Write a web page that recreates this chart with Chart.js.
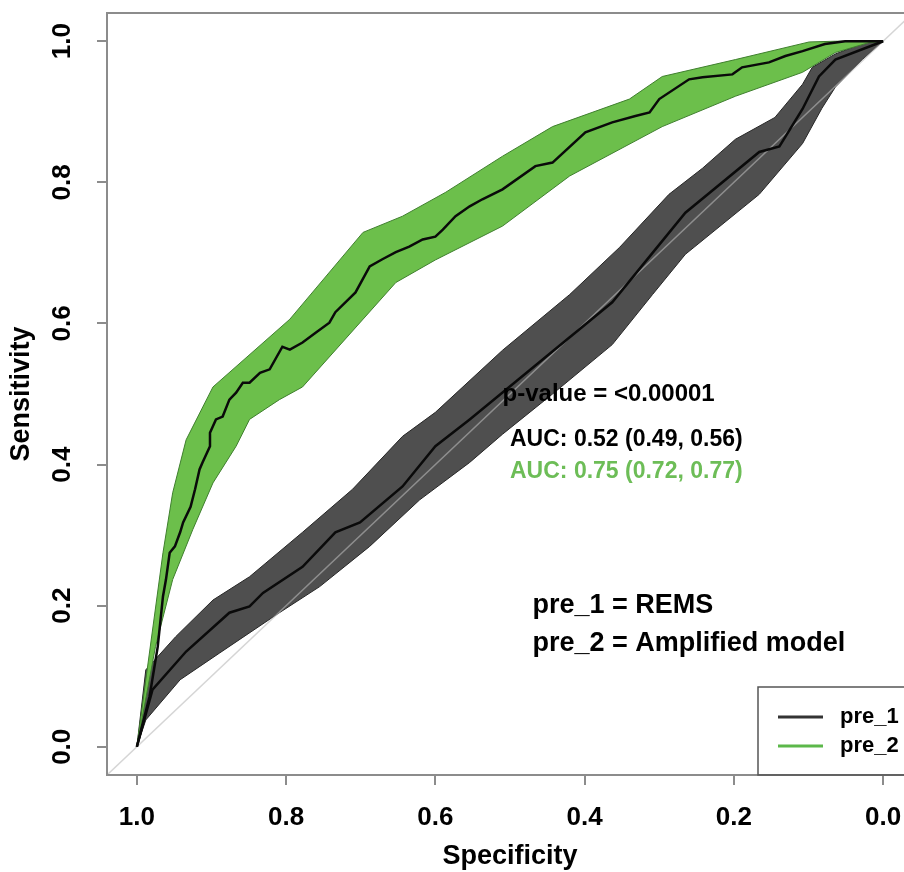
<!DOCTYPE html>
<html>
<head>
<meta charset="utf-8">
<script src="https://cdn.jsdelivr.net/npm/chart.js@4.4.1/dist/chart.umd.min.js"></script>
<style>
  html, body { margin: 0; padding: 0; background: #fff; overflow: hidden; }
</style>
</head>
<body>
<canvas id="roc-chart" width="920" height="872"></canvas>
<script>
// ROC data (x = specificity, y = sensitivity)
const pre1Spec = [1.0, 0.979, 0.934, 0.876, 0.849, 0.831, 0.778, 0.734, 0.701, 0.644, 0.60, 0.554, 0.51, 0.363, 0.309, 0.265, 0.166, 0.139, 0.108, 0.086, 0.064, 0.0];
const pre1Sens = [0.0, 0.081, 0.135, 0.19, 0.199, 0.218, 0.255, 0.304, 0.318, 0.369, 0.426, 0.464, 0.502, 0.63, 0.70, 0.757, 0.843, 0.851, 0.904, 0.95, 0.974, 1.0];

const pre1UpperSpec = [1.0, 0.988, 0.948, 0.898, 0.849, 0.778, 0.711, 0.644, 0.60, 0.51, 0.42, 0.353, 0.287, 0.242, 0.198, 0.145, 0.108, 0.095, 0.064, 0.019, 0.0];
const pre1UpperSens = [0.0, 0.109, 0.156, 0.208, 0.241, 0.304, 0.365, 0.44, 0.474, 0.562, 0.641, 0.708, 0.783, 0.82, 0.861, 0.892, 0.939, 0.963, 0.982, 1.0, 1.0];
const pre1LowerSpec = [1.0, 0.988, 0.942, 0.889, 0.809, 0.755, 0.688, 0.621, 0.554, 0.51, 0.443, 0.363, 0.309, 0.265, 0.166, 0.108, 0.082, 0.064, 0.028, 0.0];
const pre1LowerSens = [0.0, 0.038, 0.095, 0.133, 0.19, 0.227, 0.284, 0.35, 0.403, 0.443, 0.50, 0.570, 0.641, 0.698, 0.783, 0.855, 0.905, 0.935, 0.974, 1.0];

const pre2Spec = [1.0, 0.983, 0.972, 0.965, 0.961, 0.956, 0.949, 0.942, 0.938, 0.928, 0.922, 0.916, 0.912, 0.902, 0.902, 0.894, 0.885, 0.876, 0.867, 0.858, 0.849, 0.835, 0.822, 0.805, 0.795, 0.778, 0.760, 0.742, 0.734, 0.707, 0.688, 0.671, 0.653, 0.635, 0.617, 0.600, 0.590, 0.573, 0.554, 0.537, 0.51, 0.466, 0.443, 0.399, 0.363, 0.332, 0.313, 0.30, 0.26, 0.242, 0.202, 0.189, 0.153, 0.131, 0.108, 0.078, 0.051, 0.0];
const pre2Sens = [0.0, 0.071, 0.142, 0.213, 0.237, 0.275, 0.284, 0.304, 0.318, 0.340, 0.365, 0.393, 0.403, 0.426, 0.445, 0.464, 0.468, 0.492, 0.502, 0.516, 0.516, 0.530, 0.535, 0.567, 0.563, 0.573, 0.587, 0.601, 0.616, 0.644, 0.681, 0.691, 0.701, 0.709, 0.719, 0.723, 0.733, 0.752, 0.766, 0.776, 0.790, 0.823, 0.828, 0.871, 0.885, 0.894, 0.899, 0.918, 0.946, 0.949, 0.953, 0.963, 0.970, 0.979, 0.986, 0.996, 1.0, 1.0];

const pre2UpperSpec = [1.0, 0.988, 0.965, 0.952, 0.934, 0.898, 0.795, 0.697, 0.644, 0.586, 0.51, 0.443, 0.34, 0.296, 0.198, 0.099, 0.064, 0.0];
const pre2UpperSens = [0.0, 0.095, 0.275, 0.36, 0.435, 0.51, 0.606, 0.729, 0.752, 0.786, 0.837, 0.879, 0.918, 0.95, 0.974, 0.999, 1.0, 1.0];
const pre2LowerSpec = [1.0, 0.975, 0.952, 0.925, 0.898, 0.867, 0.849, 0.809, 0.778, 0.653, 0.60, 0.51, 0.42, 0.296, 0.198, 0.108, 0.064, 0.019, 0.0];
const pre2LowerSens = [0.0, 0.142, 0.237, 0.308, 0.374, 0.426, 0.464, 0.492, 0.51, 0.658, 0.69, 0.738, 0.809, 0.879, 0.922, 0.956, 0.984, 0.998, 1.0];

// chance line spans the whole (R-style, 4% padded) plot region
const diagSpec = [1.04, -0.04];
const diagSens = [-0.04, 1.04];

const xTicks = [1.0, 0.8, 0.6, 0.4, 0.2, 0.0];
const yTicks = [0.0, 0.2, 0.4, 0.6, 0.8, 1.0];

const seriesNames = ['pre_1', 'pre_2'];
const pValueText = 'p-value = <0.00001';
const aucTexts = ['AUC: 0.52 (0.49, 0.56)', 'AUC: 0.75 (0.72, 0.77)'];
const modelTexts = ['pre_1 = REMS', 'pre_2 = Amplified model'];

const FONT = '"Liberation Sans", Arial, Helvetica, sans-serif';
const GREEN = '#6cbf4b';

function toPoints(xs, ys) {
    return xs.map((v, i) => ({ x: v, y: ys[i] }));
}

// closed polygon: upper edge then lower edge walked back
function bandPoints(ux, uy, lx, ly) {
    return toPoints(ux, uy).concat(toPoints(lx, ly).reverse());
}

// box, rotated y labels, notes and the R-style legend
const rocDecorations = {
    id: 'rocDecorations',
    afterDraw(chart) {
        const { ctx, chartArea: a, scales: { x, y } } = chart;
        ctx.save();

        ctx.strokeStyle = '#8c8c8c';
        ctx.lineWidth = 2;
        ctx.strokeRect(a.left, a.top, a.right - a.left, a.bottom - a.top);

        ctx.fillStyle = '#000';
        ctx.font = 'bold 26px ' + FONT;
        ctx.textAlign = 'center';
        ctx.textBaseline = 'middle';
        yTicks.forEach(v => {
            ctx.save();
            ctx.translate(a.left - 44, y.getPixelForValue(v));
            ctx.rotate(-Math.PI / 2);
            ctx.fillText(v.toFixed(1), 0, 0);
            ctx.restore();
        });

        ctx.textAlign = 'left';
        ctx.font = 'bold 24px ' + FONT;
        ctx.fillText(pValueText, x.getPixelForValue(0.51), y.getPixelForValue(0.50));

        ctx.font = 'bold 23px ' + FONT;
        ctx.fillText(aucTexts[0], x.getPixelForValue(0.50), y.getPixelForValue(0.435));
        ctx.fillStyle = '#6dbd57';
        ctx.fillText(aucTexts[1], x.getPixelForValue(0.50), y.getPixelForValue(0.39));

        ctx.fillStyle = '#000';
        ctx.font = 'bold 27px ' + FONT;
        ctx.fillText(modelTexts[0], x.getPixelForValue(0.47), y.getPixelForValue(0.20));
        ctx.fillText(modelTexts[1], x.getPixelForValue(0.47), y.getPixelForValue(0.146));

        // legend box sits in the bottom-right corner of the plot
        const left = a.right - 155, top = a.bottom - 88;
        ctx.strokeStyle = '#555';
        ctx.lineWidth = 1.5;
        ctx.strokeRect(left, top, a.right - left, a.bottom - top);
        const legendColors = ['#333333', '#5cb84a'];
        ctx.font = 'bold 22px ' + FONT;
        ctx.lineWidth = 3;
        seriesNames.forEach((name, i) => {
            const ly = top + 30 + i * 29;
            ctx.strokeStyle = legendColors[i];
            ctx.beginPath();
            ctx.moveTo(left + 20, ly);
            ctx.lineTo(left + 65, ly);
            ctx.stroke();
            ctx.fillStyle = '#000';
            ctx.fillText(name, left + 82, ly);
        });

        ctx.restore();
    }
};

document.addEventListener('DOMContentLoaded', function () {
    const ctx = document.getElementById('roc-chart').getContext('2d');

    const lineStyle = { showLine: true, pointRadius: 0, borderWidth: 2.5, tension: 0, fill: false };

    new Chart(ctx, {
        type: 'scatter',
        data: {
            datasets: [
                // index 0 ends up on top
                Object.assign({ label: 'pre_2', data: toPoints(pre2Spec, pre2Sens), borderColor: '#0a0a0a' }, lineStyle),
                Object.assign({ label: 'pre_1', data: toPoints(pre1Spec, pre1Sens), borderColor: '#0a0a0a' }, lineStyle),
                {
                    label: 'chance',
                    data: toPoints(diagSpec, diagSens),
                    showLine: true, pointRadius: 0, borderWidth: 1.5,
                    borderColor: 'rgba(185,185,185,0.6)', fill: false
                },
                {
                    label: 'pre_2 CI',
                    data: bandPoints(pre2UpperSpec, pre2UpperSens, pre2LowerSpec, pre2LowerSens),
                    showLine: true, pointRadius: 0, borderWidth: 1,
                    borderColor: '#3f7f2e', backgroundColor: GREEN, fill: 'shape'
                },
                {
                    label: 'pre_1 CI',
                    data: bandPoints(pre1UpperSpec, pre1UpperSens, pre1LowerSpec, pre1LowerSens),
                    showLine: true, pointRadius: 0, borderWidth: 1,
                    borderColor: '#262626', backgroundColor: '#4f4f4f', fill: 'shape'
                }
            ]
        },
        options: {
            responsive: false,
            animation: false,
            layout: { padding: { top: 13, right: 7, left: 0, bottom: 0 } },
            plugins: {
                legend: { display: false },
                tooltip: { enabled: false }
            },
            scales: {
                x: {
                    type: 'linear',
                    reverse: true,
                    min: -0.04,
                    max: 1.04,
                    afterBuildTicks: s => { s.ticks = xTicks.map(v => ({ value: v })); },
                    afterFit: s => { s.height = 97; },
                    ticks: {
                        callback: v => v.toFixed(1),
                        color: '#000',
                        font: { family: FONT, size: 26, weight: 'bold' },
                        padding: 17,
                        maxRotation: 0,
                        autoSkip: false
                    },
                    grid: { drawOnChartArea: false, drawTicks: true, tickLength: 10, color: '#8c8c8c', lineWidth: 2 },
                    border: { display: false },
                    title: {
                        display: true,
                        text: 'Specificity',
                        color: '#000',
                        font: { family: FONT, size: 27, weight: 'bold', lineHeight: 1 },
                        padding: { top: 0, bottom: 2 }
                    }
                },
                y: {
                    type: 'linear',
                    min: -0.04,
                    max: 1.04,
                    afterBuildTicks: s => { s.ticks = yTicks.map(v => ({ value: v })); },
                    afterFit: s => { s.width = 107; },
                    ticks: { display: false },
                    grid: { drawOnChartArea: false, drawTicks: true, tickLength: 10, color: '#8c8c8c', lineWidth: 2 },
                    border: { display: false },
                    title: {
                        display: true,
                        text: 'Sensitivity',
                        color: '#000',
                        font: { family: FONT, size: 27, weight: 'bold', lineHeight: 1 },
                        padding: { top: 8, bottom: 0 }
                    }
                }
            }
        },
        plugins: [rocDecorations]
    });
});
</script>
</body>
</html>
